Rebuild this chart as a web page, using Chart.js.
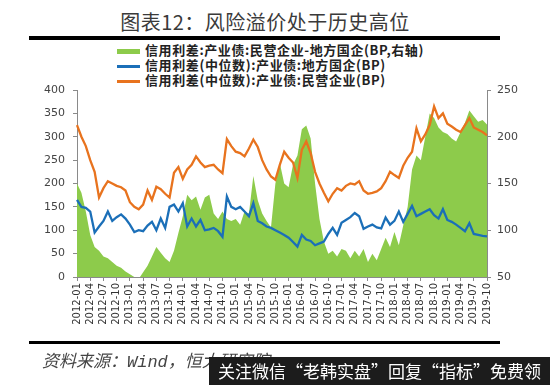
<!DOCTYPE html>
<html>
<head>
<meta charset="utf-8">
<script src="https://cdn.jsdelivr.net/npm/chart.js@4.4.1/dist/chart.umd.min.js"></script>
<style>
    body { margin: 0; width: 550px; height: 385px; background: #fff; position: relative; overflow: hidden; font-family: "Noto Sans CJK SC", sans-serif; }
    #chartBox { position: absolute; left: 0; top: 0; width: 550px; height: 385px; }
    .title { position: absolute; left: 0; width: 530px; top: 7px; text-align: center; font-size: 20px; color: #3a3a3a; letter-spacing: 0.5px; }
    .rule { position: absolute; left: 29px; width: 471px; background: #000; }
    .legend { position: absolute; left: 117px; top: 42px; font-size: 13px; font-weight: 700; color: #222; letter-spacing: 0.6px; }
    .legend div { height: 15px; line-height: 15px; white-space: nowrap; }
    .legend span.sw { display: inline-block; width: 23px; vertical-align: middle; margin-right: 5px; }
    .source { position: absolute; left: 42px; top: 347px; font-size: 17px; font-style: italic; color: #444; font-family: "Liberation Mono", "Noto Sans CJK SC", monospace; white-space: nowrap; }
    .mark { position: absolute; left: 209px; top: 357px; width: 341px; height: 28px; background: #1c1c1c; color: #fff; font-size: 17px; line-height: 28px; padding-left: 9px; box-sizing: border-box; white-space: nowrap; }
</style>
</head>
<body>
<div class="title">图表12：风险溢价处于历史高位</div>
<div class="rule" style="top:36px;height:4px;"></div>
<div class="legend">
    <div><span class="sw" style="height:5px;background:#8DCB4B;"></span>信用利差:产业债:民营企业-地方国企(BP,右轴)</div>
    <div><span class="sw" style="height:2.5px;background:#1B6FB8;"></span>信用利差(中位数):产业债:地方国企(BP)</div>
    <div><span class="sw" style="height:2.5px;background:#E8731E;"></span>信用利差(中位数):产业债:民营企业(BP)</div>
</div>
<div id="chartBox"><canvas id="spreadChart" width="550" height="385"></canvas></div>
<div class="rule" style="top:341px;height:3px;"></div>
<div class="source">资料来源：Wind，恒大研究院</div>
<div class="mark">关注微信“老韩实盘”回复“指标”免费领</div>

<script>
// months 2012-01 .. 2019-10
const startYear = 2012;
const monthCount = 94;
const months = [];
for (let i = 0; i < monthCount; i++) {
    const y = startYear + Math.floor(i / 12);
    const m = (i % 12) + 1;
    months.push(y + '-' + (m < 10 ? '0' + m : m));
}

// 民营企业 median spread (BP, left axis)
const privateSpread = [
    325, 300, 280, 250, 225, 170, 190, 205, 200, 195, 192, 185,
    160, 150, 145, 155, 185, 165, 193, 188, 178, 170, 223, 235,
    210, 230, 240, 258, 245, 235, 238, 240, 230, 222, 295, 280,
    268, 265, 258, 275, 294, 278, 250, 230, 215, 208, 240, 268,
    255, 245, 212, 272, 290, 265, 225, 200, 180, 162, 178, 190,
    185, 195, 200, 198, 205, 185, 178, 180, 183, 190, 205, 225,
    218, 212, 238, 255, 268, 318, 290, 305, 325, 365, 340, 350,
    328, 322, 315, 310, 325, 340, 320, 315, 310, 303
];

// 地方国企 median spread (BP, left axis)
const stateSpread = [
    165, 150, 148, 140, 95, 108, 120, 140, 120, 128, 134, 125,
    112, 96, 100, 98, 110, 118, 100, 125, 105, 150, 155, 140,
    158, 108, 125, 108, 122, 100, 102, 105, 98, 86, 172, 150,
    145, 150, 140, 130, 158, 120, 115, 108, 105, 100, 95, 90,
    84, 75, 65, 90, 80, 77, 68, 72, 76, 92, 105, 90,
    116, 122, 128, 137, 130, 103, 108, 112, 106, 104, 127, 112,
    120, 140, 118, 135, 152, 130, 135, 140, 145, 132, 125, 145,
    122, 118, 112, 105, 98, 115, 92, 90, 88, 87
];

// 民营企业 - 地方国企 (BP, right axis)
const gapSpread = [
    150, 140, 120, 95, 82, 78, 72, 70, 66, 62, 60, 56,
    53, 50, 48, 55, 62, 72, 82, 76, 70, 66, 78, 97,
    115, 138, 132, 136, 122, 135, 138, 118, 112, 120, 112, 110,
    112, 106, 120, 118, 158, 132, 118, 110, 103, 150, 172, 150,
    146, 170, 180, 208, 212, 198, 150, 112, 88, 75, 78, 72,
    80, 78, 70, 78, 72, 80, 66, 75, 68, 80, 92, 82,
    98, 84, 105, 125, 165, 180, 175, 200, 225, 220, 210, 205,
    203, 198, 195, 205, 215, 228, 222, 216, 218, 213
];

const leftTicks = [0, 50, 100, 150, 200, 250, 300, 350, 400];
const rightTicks = [50, 100, 150, 200, 250];

const tickFont = { family: 'DejaVu Sans', size: 11 };
const axisColor = '#8a8a8a';

const ctx = document.getElementById('spreadChart').getContext('2d');
new Chart(ctx, {
    type: 'line',
    data: {
        labels: months,
        datasets: [
            {
                label: '信用利差(中位数):产业债:民营企业(BP)',
                data: privateSpread,
                borderColor: '#E8731E',
                borderWidth: 2.3,
                pointRadius: 0,
                tension: 0,
                yAxisID: 'y',
                order: 0
            },
            {
                label: '信用利差(中位数):产业债:地方国企(BP)',
                data: stateSpread,
                borderColor: '#1B6FB8',
                borderWidth: 2.3,
                pointRadius: 0,
                tension: 0,
                yAxisID: 'y',
                order: 1
            },
            {
                label: '信用利差:产业债:民营企业-地方国企(BP,右轴)',
                data: gapSpread,
                borderWidth: 0,
                borderColor: 'rgba(0,0,0,0)',
                backgroundColor: '#8DCB4B',
                fill: 'start',
                pointRadius: 0,
                tension: 0,
                yAxisID: 'y1',
                order: 2
            }
        ]
    },
    options: {
        responsive: false,
        animation: false,
        layout: { padding: { top: 90, left: 0, right: 0, bottom: 0 } },
        plugins: {
            legend: { display: false },
            tooltip: { enabled: false }
        },
        scales: {
            x: {
                type: 'category',
                offset: false,
                border: { display: true, color: axisColor, width: 1 },
                grid: { display: true, drawOnChartArea: false, drawTicks: true, tickLength: 4, color: axisColor },
                ticks: {
                    autoSkip: false,
                    maxRotation: 90,
                    minRotation: 90,
                    padding: 2,
                    color: '#333',
                    font: { family: 'DejaVu Sans', size: 10 },
                    callback: function(value, index) {
                        return index % 3 === 0 ? months[index] : null;
                    }
                },
                afterFit: function(scale) { scale.height = 108; }
            },
            y: {
                position: 'left',
                min: 0,
                max: 400,
                border: { display: true, color: axisColor, width: 1 },
                grid: { drawOnChartArea: false, drawTicks: true, tickLength: 4, color: axisColor },
                afterBuildTicks: function(scale) { scale.ticks = leftTicks.map(v => ({ value: v })); },
                ticks: { color: '#444', font: tickFont, padding: 8 },
                afterFit: function(scale) { scale.width = 77; }
            },
            y1: {
                position: 'right',
                min: 50,
                max: 250,
                border: { display: true, color: axisColor, width: 1 },
                grid: { drawOnChartArea: false, drawTicks: true, tickLength: 4, color: axisColor },
                afterBuildTicks: function(scale) { scale.ticks = rightTicks.map(v => ({ value: v })); },
                ticks: { color: '#444', font: tickFont, padding: 6 },
                afterFit: function(scale) { scale.width = 63; }
            }
        }
    }
});
</script>
</body>
</html>
